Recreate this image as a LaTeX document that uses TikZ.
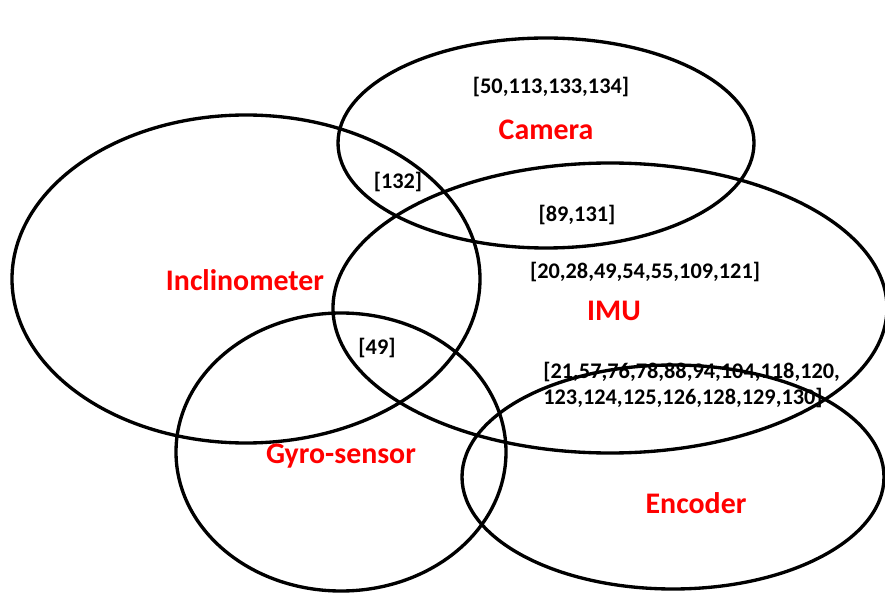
\documentclass[tikz,border=0pt]{standalone}
\usepackage{fontspec}
\setmainfont{Carlito}
\usepackage{xcolor}
\usepackage{tikz}
\definecolor{SetRed}{HTML}{FF0000}

\begin{document}
\begin{tikzpicture}[x=0.02cm,y=-0.02cm,
          set/.style={line width=1.9pt,black},
          lbl/.style={font=\fontsize{17}{19}\selectfont\bfseries,text=SetRed},
          ids/.style={font=\fontsize{12.7}{14.5}\selectfont\bfseries,text=black,align=left,inner sep=0pt}]
        \useasboundingbox (0,0) rectangle (885,594);
        % sensor sets
        \draw[set] (546,143) ellipse [x radius=208,y radius=105];
        \draw[set] (246,279) ellipse [x radius=234,y radius=164];
        \draw[set] (610,308) ellipse [x radius=277,y radius=145];
        \draw[set] (341,452) ellipse [x radius=165,y radius=139];
        \draw[set] (673,477) ellipse [x radius=211,y radius=112];
        % set names
        \node[lbl] (camera) at (546,130) {Camera};
        \node[lbl] (incl)   at (245,280) {Inclinometer};
        \node[lbl] (imu)    at (614,311) {IMU};
        \node[lbl] (gyro)   at (341,456) {Gyro-sensor};
        \node[lbl] (enc)    at (696,503) {Encoder};
        % experiment numbers
        \node[ids] (camids)  at (551,87)  {[50,113,133,134]};
        \node[ids] (camincl) at (398,182) {[132]};
        \node[ids] (camimu)  at (577,215) {[89,131]};
        \node[ids] (imuids)  at (645,272) {[20,28,49,54,55,109,121]};
        \node[ids] (gyroimu) at (377,348) {[49]};
        \node[ids,anchor=west] (encimu) at (543,385)
          {[21,57,76,78,88,94,104,118,120,\\123,124,125,126,128,129,130]};
\end{tikzpicture}
\end{document}
